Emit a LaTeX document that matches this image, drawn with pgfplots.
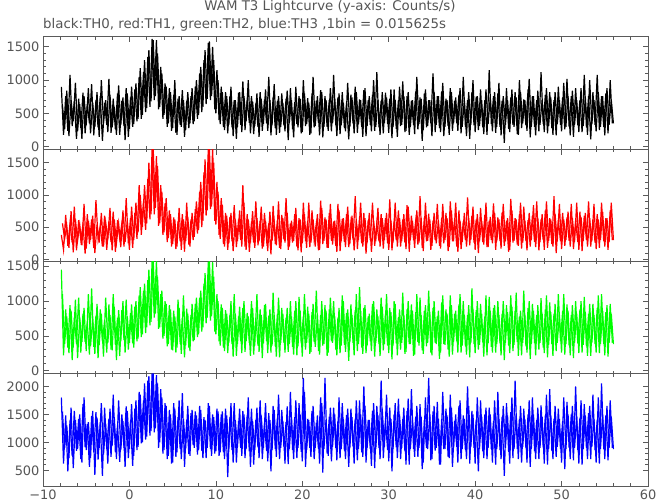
\documentclass[border=0pt]{standalone}
\usepackage{fontspec}
\setmainfont{DejaVu Sans}
\usepackage{pgfplots}
\usepackage{pgfplotstable}
\usepgfplotslibrary{groupplots}
\pgfplotsset{compat=1.18}
\definecolor{frame}{HTML}{5A5A5A}
\definecolor{txt}{HTML}{555555}

% t, u = time (s); a..d and a2..d2 = TH0..TH3 counts/s (high/low extremes, two interleaved sample sets)
\pgfplotstableread{
t a b c d u a2 b2 c2 d2
-7.875 900 380 1450 1800 -7.75 620 560 1100 1550
-7.625 180 150 220 620 -7.5 260 320 380 900
-7.375 760 690 880 1480 -7.25 840 520 780 1300
-7.125 240 210 330 480 -7.0 160 180 250 720
-6.875 1080 560 940 1390 -6.75 700 750 860 1620
-6.625 310 260 150 760 -6.5 380 110 330 540
-6.375 680 820 760 1560 -6.25 960 620 1020 1400
-6.125 120 140 380 850 -6.0 230 290 180 880
-5.875 720 610 1050 1420 -5.75 640 540 760 1500
-5.625 280 300 260 700 -5.5 120 220 410 640
-5.375 810 540 820 1680 -5.25 760 860 900 1800
-5.125 200 90 410 910 -5.0 320 170 280 860
-4.875 640 700 690 1330 -4.75 880 600 1100 1360
-4.625 350 240 230 560 -4.5 200 300 350 720
-4.375 940 620 1180 1470 -4.25 660 680 740 1560
-4.125 170 180 340 820 -4.0 300 100 240 420
-3.875 700 920 790 1540 -3.75 820 540 960 1440
-3.625 290 310 180 690 -3.5 150 260 370 900
-3.375 760 520 880 1360 -3.25 1000 720 820 1700
-3.125 90 200 420 400 -3.0 360 200 200 780
-2.875 660 680 720 1620 -2.75 700 580 1050 1320
-2.625 330 150 260 880 -2.5 220 310 400 620
-2.375 1020 590 950 1420 -2.25 780 800 800 1600
-2.125 210 270 300 740 -2.0 290 140 290 940
-1.875 720 740 1100 1850 -1.75 600 620 920 1450
-1.625 260 120 370 820 -1.5 180 260 150 700
-1.375 800 610 760 1300 -1.25 920 560 870 1750
-1.125 180 330 210 650 -1.0 330 190 420 860
-0.875 690 560 870 1500 -0.75 740 760 1000 1380
-0.625 310 200 440 900 -0.5 100 270 260 560
-0.375 880 950 1020 1640 -0.25 800 600 780 1560
-0.125 150 250 300 720 0.0 270 150 400 880
0.125 740 640 830 1380 0.25 900 820 950 1680
0.375 300 180 390 580 0.5 340 300 330 760
0.625 860 720 920 1600 0.75 950 880 1000 1750
0.875 380 320 420 860 1.0 420 420 460 920
1.125 1050 1150 1080 1900 1.25 1180 1000 1200 1850
1.375 420 380 480 980 1.5 480 500 520 1000
1.625 1120 900 1150 1750 1.75 1300 1150 1250 2050
1.875 520 460 540 1050 2.0 580 560 620 1100
2.125 1350 1250 1300 2100 2.25 1450 1500 1450 2180
2.375 600 620 650 1120 2.5 680 700 700 1200
2.625 1620 1720 1580 2230 2.75 1600 1720 1580 2230
2.875 700 700 760 1180 3.0 760 800 820 1250
3.125 1600 1600 1580 2200 3.25 1400 1450 1350 2050
3.375 560 520 600 900 3.5 600 560 620 1000
3.625 1200 1150 1100 1950 3.75 1100 1050 1150 1800
3.875 420 380 460 800 4.0 480 420 500 860
4.125 950 870 1000 1700 4.25 900 950 960 1650
4.375 300 270 350 700 4.5 350 330 380 760
4.625 880 760 940 1580 4.75 820 700 880 1500
4.875 240 200 300 620 5.0 280 240 290 640
5.125 780 650 860 1700 5.25 1000 620 780 1600
5.375 210 160 260 740 5.5 180 200 330 820
5.625 720 590 1020 1450 5.75 760 800 900 1750
5.875 330 280 380 880 6.0 300 150 240 700
6.125 850 700 760 1880 6.25 700 620 1080 1420
6.375 150 120 190 560 6.5 250 280 360 880
6.625 690 880 890 1400 6.75 820 660 820 1650
6.875 280 230 330 790 7.0 350 200 280 760
7.125 760 620 800 1520 7.25 880 720 960 1580
7.375 340 300 420 950 7.5 380 350 440 900
7.625 900 780 960 1550 7.75 1000 900 1050 1480
7.875 420 400 480 780 8.0 480 460 520 860
8.125 1100 1050 1050 1650 8.25 1200 1200 1150 1580
8.375 520 500 560 850 8.5 600 600 620 720
8.625 1300 1350 1250 1450 8.75 1450 1550 1400 1400
8.875 640 680 680 720 9.0 720 760 760 900
9.125 1560 1720 1560 1700 9.25 1580 1720 1580 1650
9.375 700 780 720 880 9.5 760 820 780 760
9.625 1500 1720 1560 1500 9.75 1300 1500 1350 1450
9.875 560 600 560 800 10.0 500 540 520 840
10.125 1150 1200 1100 1600 10.25 1000 1050 1000 1550
10.375 400 380 420 760 10.5 340 320 360 820
10.625 900 950 950 1500 10.75 820 850 900 1550
10.875 300 240 330 820 11.0 250 200 280 700
11.125 820 720 870 1600 11.25 760 680 820 1480
11.375 200 150 250 380 11.5 330 250 400 880
11.625 760 660 800 1450 11.75 900 720 1000 1700
11.875 290 280 380 860 12.0 160 130 200 640
12.125 700 840 1100 1700 12.25 700 620 820 1400
12.375 120 190 210 640 12.5 300 280 380 920
12.625 810 620 780 1380 12.75 820 760 920 1600
12.875 330 300 420 900 13.0 220 200 250 760
13.125 980 1150 900 1560 13.25 760 880 1000 1500
13.375 250 200 270 720 13.5 380 150 420 880
13.625 700 700 830 1480 13.75 1000 620 780 1800
13.875 360 120 400 840 14.0 200 260 210 560
14.125 760 590 1000 1600 14.25 680 750 900 1380
14.375 190 260 230 600 14.5 310 180 360 860
14.625 650 900 760 1400 14.75 800 640 1100 1620
14.875 300 220 360 910 15.0 150 280 270 720
15.125 820 600 880 1750 15.25 720 820 800 1480
15.375 240 170 180 700 15.5 340 200 390 900
15.625 710 720 940 1330 15.75 860 600 960 1700
15.875 350 300 420 850 16.0 240 130 250 660
16.125 1050 560 790 1520 16.25 700 740 880 1400
16.375 170 80 260 480 16.5 320 290 360 860
16.625 740 830 1120 1650 16.75 940 580 800 1580
16.875 280 240 350 880 17.0 180 220 200 740
17.125 690 610 820 1440 17.25 760 900 1050 1850
17.375 210 180 190 700 17.5 300 160 400 900
17.625 800 690 900 1580 17.75 660 640 820 1380
17.875 320 310 400 920 18.0 230 260 260 620
18.125 720 950 760 1360 18.25 840 720 900 1640
18.375 100 150 270 610 18.5 360 200 380 880
18.625 880 560 1000 1900 18.75 700 600 780 1450
18.875 260 260 340 860 19.0 140 290 230 700
19.125 670 700 860 1450 19.25 900 800 1000 1750
19.375 340 200 220 720 19.5 290 140 350 900
19.625 760 640 1060 1700 19.75 720 620 860 1500
19.875 200 110 390 830 20.0 220 250 200 660
20.125 1000 880 780 2150 20.25 800 700 1100 1900
20.375 310 280 300 560 20.5 340 180 400 860
20.625 730 600 920 1420 20.75 660 880 820 1400
20.875 180 190 240 900 21.0 200 260 270 740
21.125 800 760 840 1560 21.25 1050 620 960 1650
21.375 290 300 410 700 21.5 310 200 340 900
21.625 690 560 1150 1350 21.75 760 700 800 1480
21.875 360 140 280 880 22.0 170 150 230 620
22.125 850 910 800 1800 22.25 820 800 1000 1700
22.375 140 240 360 460 22.5 300 290 380 880
22.625 760 650 940 2150 22.75 700 620 860 1400
22.875 300 180 210 800 23.0 240 180 260 760
23.125 700 720 880 1460 23.25 880 860 1050 1620
23.375 230 290 420 660 23.5 350 230 400 920
23.625 1080 590 1000 1620 23.75 720 600 780 1500
23.875 320 210 300 900 24.0 160 120 220 680
24.125 740 860 760 1380 24.25 800 760 900 1800
24.375 190 130 250 720 24.5 320 280 360 880
24.625 820 630 1080 1700 24.75 660 640 1000 1420
24.875 280 270 370 850 25.0 230 190 270 700
25.125 660 700 830 1490 25.25 960 820 880 1600
25.375 110 190 140 560 25.5 300 240 410 900
25.625 780 580 950 1600 25.75 740 680 800 1450
25.875 350 310 400 930 26.0 200 140 220 620
26.125 900 980 870 1420 26.25 820 600 1100 1750
26.375 210 160 280 680 26.5 340 300 380 880
26.625 710 650 1200 1750 26.75 700 880 860 1500
26.875 300 250 330 820 27.0 150 200 240 740
27.125 850 720 900 2000 27.25 880 640 940 1650
27.375 160 90 250 640 27.5 310 260 360 900
27.625 700 610 780 1400 27.75 760 720 820 1400
27.875 330 300 420 880 28.0 230 120 280 580
28.125 780 880 960 1560 28.25 1000 600 1000 1700
28.375 240 210 200 540 28.5 300 280 400 880
28.625 1120 560 880 1650 28.75 700 800 780 1480
28.875 290 280 380 900 29.0 180 200 210 700
29.125 690 700 1050 2100 29.25 820 640 920 1600
29.375 200 170 290 720 29.5 350 300 380 920
29.625 810 640 820 1380 29.75 740 720 1100 1850
29.875 340 250 360 860 30.0 210 150 250 660
30.125 720 930 900 1620 30.25 860 600 840 1420
30.375 130 140 160 480 30.5 300 260 360 880
30.625 860 590 1000 1500 30.75 700 880 960 1700
30.875 270 300 390 910 31.0 150 200 220 720
31.125 700 760 770 1780 31.25 900 640 880 1500
31.375 310 200 300 700 31.5 330 280 400 900
31.625 980 620 1120 1420 31.75 760 700 800 1620
31.875 220 260 240 840 32.0 240 160 270 600
32.125 760 840 880 1560 32.25 820 820 1000 1780
32.375 180 120 380 600 32.5 300 300 380 880
32.625 690 680 950 1950 32.75 700 600 860 1400
32.875 330 300 210 880 33.0 190 180 230 740
33.125 830 600 840 1460 33.25 1050 760 1100 1650
33.375 260 230 410 740 33.5 340 260 360 900
33.625 740 980 1050 1680 33.75 720 640 800 1460
33.875 90 180 290 520 34.0 250 130 240 640
34.125 800 650 860 1400 34.25 860 880 940 1800
34.375 290 280 350 900 34.5 310 290 400 880
34.625 700 710 1150 2150 34.75 700 620 840 1500
34.875 350 150 260 680 35.0 160 210 220 700
35.125 1100 600 900 1550 35.25 820 720 1000 1650
35.375 220 300 400 850 35.5 330 250 380 900
35.625 760 860 780 1720 35.75 760 600 860 1420
35.875 280 210 170 600 36.0 220 170 260 600
36.125 830 640 980 1420 36.25 960 860 1080 1900
36.375 160 250 380 880 36.5 300 300 370 880
36.625 720 720 880 1600 36.75 700 640 820 1480
36.875 310 130 300 740 37.0 180 190 200 720
37.125 880 900 1080 1850 37.25 820 760 940 1620
37.375 240 280 230 560 37.5 350 280 410 900
37.625 690 620 820 1380 37.75 740 880 860 1500
37.875 350 200 420 920 38.0 240 120 260 640
38.125 780 760 950 1650 38.25 880 600 1100 1750
38.375 200 160 260 700 38.5 300 270 360 880
38.625 1050 590 1000 1480 38.75 700 720 800 1420
38.875 300 300 350 860 39.0 160 200 230 700
39.125 700 960 800 2000 39.25 820 640 940 1650
39.375 120 220 190 620 39.5 330 300 400 920
39.625 820 680 1180 1560 39.75 1000 820 880 1500
39.875 320 260 380 900 40.0 220 150 250 620
40.125 750 620 870 1400 40.25 760 700 1000 1800
40.375 250 100 300 480 40.5 310 280 370 880
40.625 860 800 960 1750 40.75 700 600 820 1460
40.875 290 270 410 840 41.0 190 230 200 720
41.125 700 690 780 1500 41.25 860 880 1080 1620
41.375 180 190 220 700 41.5 340 190 390 900
41.625 1150 600 1060 1620 41.75 740 660 860 1500
41.875 340 300 340 880 42.0 230 250 260 640
42.125 760 870 900 1380 42.25 820 720 940 1750
42.375 210 150 260 600 42.5 300 280 380 880
42.625 800 650 1000 1900 42.75 960 620 800 1420
42.875 300 290 390 860 43.0 170 170 220 700
43.125 690 730 820 1460 43.25 760 860 1000 1650
43.375 60 210 150 400 43.5 330 280 400 900
43.625 880 600 940 1700 43.75 700 640 840 1480
43.875 270 120 360 830 44.0 220 150 250 620
44.125 740 940 1080 1540 44.25 860 760 920 1800
44.375 330 260 280 720 44.5 300 290 370 880
44.625 820 640 860 2100 44.75 740 620 1120 1500
44.875 190 230 410 880 45.0 180 210 210 700
45.125 1000 700 780 1420 45.25 820 880 860 1650
45.375 280 170 220 640 45.5 350 260 400 920
45.625 710 820 1150 1600 45.75 700 600 800 1420
45.875 320 290 350 900 46.0 240 140 260 640
46.125 860 610 900 1500 46.25 1020 720 1000 1750
46.375 140 200 170 560 46.5 300 300 380 880
46.625 760 680 960 1800 46.75 760 840 860 1500
46.875 300 270 400 840 47.0 170 190 220 700
47.125 700 900 800 1400 47.25 840 640 940 1620
47.375 230 140 300 700 47.5 330 270 400 900
47.625 1120 620 1040 1660 47.75 700 700 820 1460
47.875 340 300 330 910 48.0 220 150 250 620
48.125 780 760 880 1480 48.25 880 900 1080 1850
48.375 200 180 190 600 48.5 310 290 370 880
48.625 820 640 980 1950 48.75 740 620 840 1480
48.875 280 240 380 850 49.0 180 200 210 700
49.125 700 980 820 1420 49.25 820 700 960 1650
49.375 170 100 280 740 49.5 340 280 400 920
49.625 900 610 1100 1600 49.75 700 860 800 1420
49.875 330 280 420 880 50.0 230 160 260 640
50.125 740 720 860 1380 50.25 960 620 1100 1800
50.375 260 210 230 520 50.5 300 300 380 880
50.625 1020 650 950 1720 50.75 760 740 860 1500
50.875 300 290 360 900 51.0 170 200 220 700
51.125 760 860 800 1500 51.25 840 640 940 1650
51.375 150 160 180 680 51.5 330 270 400 900
51.625 880 600 1000 2000 51.75 700 880 820 1460
51.875 320 270 390 860 52.0 220 150 250 620
52.125 700 740 880 1440 52.25 880 660 1000 1750
52.375 220 130 260 600 52.5 310 290 370 880
52.625 1080 680 1060 1680 52.75 740 720 840 1480
52.875 290 300 350 900 53.0 180 200 210 700
53.125 760 900 820 1520 53.25 1000 640 960 1650
53.375 110 200 210 700 53.5 340 280 400 920
53.625 820 620 960 1850 53.75 700 860 800 1420
53.875 330 260 380 860 54.0 230 160 260 640
54.125 1080 700 900 1400 54.25 820 620 1080 1800
54.375 250 180 250 620 54.5 300 300 380 880
54.625 760 880 1100 2050 54.75 760 740 860 1500
54.875 300 280 380 880 55.0 170 200 220 700
55.125 800 640 840 1480 55.25 880 640 940 1650
55.375 200 150 200 680 55.5 330 270 400 900
55.625 1000 760 960 1750 55.75 700 880 820 1460
55.875 350 300 400 900 56.0 350 300 380 880
}\lc

\begin{document}
\begin{tikzpicture}
\begin{groupplot}[
  group style={group name=g, group size=1 by 4, vertical sep=0pt,
    xticklabels at=edge bottom},
  width=605bp, height=112.3bp, scale only axis,
  xmin=-10, xmax=60,
  xtick={-10,0,...,60}, xticklabels={−10,0,10,20,30,40,50,60},
  minor x tick num=4, minor y tick num=4,
  tick align=inside,
  major tick length=5.5bp, minor tick length=3bp,
  axis line style={frame, line width=0.8bp},
  tick style={frame, line width=0.6bp},
  tick label style={font=\fontsize{13}{13}\selectfont, text=txt},
  /pgf/number format/assume math mode=true,
  /pgf/number format/1000 sep={},
  scaled y ticks=false,
  every axis plot/.append style={mark=none, line width=1.2bp},
]
\nextgroupplot[ymin=-35, ymax=1650, ytick={0,500,1000,1500}]
\addplot[black] table[x=t, y=a] {\lc};
\addplot[black] table[x=u, y=a2] {\lc};
\nextgroupplot[ymin=-30, ymax=1710, ytick={0,500,1000,1500}]
\addplot[red] table[x=t, y=b] {\lc};
\addplot[red] table[x=u, y=b2] {\lc};
\nextgroupplot[ymin=-45, ymax=1570, ytick={0,500,1000,1500}]
\addplot[green] table[x=t, y=c] {\lc};
\addplot[green] table[x=u, y=c2] {\lc};
\nextgroupplot[ymin=220, ymax=2225, ytick={500,1000,1500,2000}]
\addplot[blue] table[x=t, y=d] {\lc};
\addplot[blue] table[x=u, y=d2] {\lc};
\end{groupplot}
\node[anchor=base, inner sep=0pt, text=txt, font=\fontsize{13.4}{13.4}\selectfont]
  at ([xshift=287bp, yshift=26bp]g c1r1.north west) {WAM T3 Lightcurve (y-axis: Counts/s)};
\node[anchor=base west, inner sep=0pt, text=txt, font=\fontsize{13.4}{13.4}\selectfont]
  at ([yshift=8bp]g c1r1.north west) {black:TH0, red:TH1, green:TH2, blue:TH3 ,1bin = 0.015625s};
\pgfresetboundingbox
\path ([xshift=-43bp, yshift=-18bp]g c1r4.south west) rectangle ([xshift=614bp, yshift=486bp]g c1r4.south west);
\end{tikzpicture}
\end{document}
